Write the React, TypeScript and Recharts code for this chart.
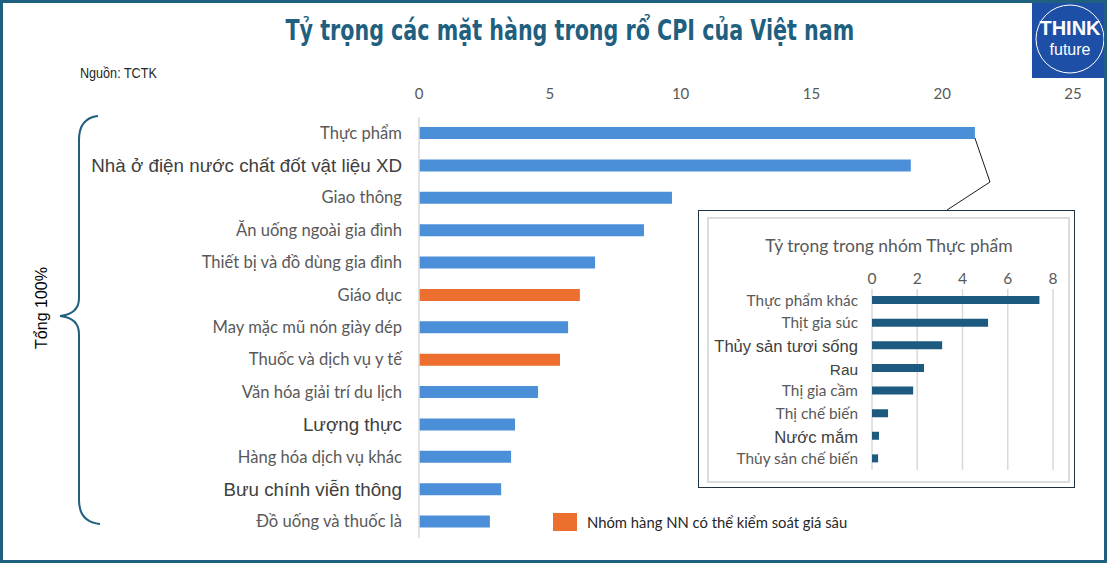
import { BarChart, Bar, Cell, XAxis, YAxis, CartesianGrid } from "recharts";

const categories = [
  "Thực phẩm",
  "Nhà ở điện nước chất đốt vật liệu XD",
  "Giao thông",
  "Ăn uống ngoài gia đình",
  "Thiết bị và đồ dùng gia đình",
  "Giáo dục",
  "May mặc mũ nón giày dép",
  "Thuốc và dịch vụ y tế",
  "Văn hóa giải trí du lịch",
  "Lượng thực",
  "Hàng hóa dịch vụ khác",
  "Bưu chính viễn thông",
  "Đồ uống và thuốc là",
];
const weights = [21.25, 18.8, 9.67, 8.6, 6.73, 6.15, 5.7, 5.39, 4.55, 3.67, 3.52, 3.14, 2.71];
const controlled = ["Giáo dục", "Thuốc và dịch vụ y tế"];
const mainTicks = [0, 5, 10, 15, 20, 25];

const foodItems = [
  "Thực phẩm khác",
  "Thịt gia súc",
  "Thủy sản tươi sống",
  "Rau",
  "Thị gia cầm",
  "Thị chế biến",
  "Nước mắm",
  "Thủy sản chế biến",
];
const foodWeights = [7.4, 5.13, 3.1, 2.3, 1.82, 0.71, 0.31, 0.27];
const foodTicks = [0, 2, 4, 6, 8];

// labels that were pasted in with a different font in the original
const bigLabels = new Set([
  "Nhà ở điện nước chất đốt vật liệu XD",
  "Lượng thực",
  "Bưu chính viễn thông",
  "Thủy sản tươi sống",
  "Rau",
  "Nước mắm",
]);

const TEAL = "#1f5f7f";
const BLUE = "#4a8fd8";
const ORANGE = "#ec6f2f";
const NAVY = "#1c5a80";
const GRAY = "#595959";
const LABEL_FONT = "Lato, 'Open Sans', sans-serif";
const ARIAL = "'Liberation Sans', Arial, sans-serif";

const mainData = categories.map((name, i) => ({ name, v: weights[i] }));
const foodData = foodItems.map((name, i) => ({ name, v: foodWeights[i] }));

// main plot geometry
const W = 1107;
const H = 563;
const PLOT_L = 419;
const PLOT_R = 1073;
const MAX = 25;

const mkYTick = (xRight: number, size: number, bigSize: number) => (props: any) => {
  const label = props.payload.value;
  const big = bigLabels.has(label);
  const fs = label === "Rau" ? size : big ? bigSize : size;
  return (
    <text
      x={xRight}
      y={props.y}
      dy={big ? 6.5 : 5.5}
      textAnchor="end"
      fontSize={fs}
      fontFamily={big ? ARIAL : LABEL_FONT}
      fill={big ? "#404040" : GRAY}
    >
      {label}
    </text>
  );
};

const mkXTick = (y: number, size: number) => (props: any) => (
  <text x={props.x} y={y} textAnchor="middle" fontSize={size} fontFamily={LABEL_FONT} fill={GRAY}>
    {props.payload.value}
  </text>
);

export default function App() {
  const endX = PLOT_L + (weights[0] / MAX) * (PLOT_R - PLOT_L);
  return (
    <div
      style={{
        position: "absolute",
        left: 0,
        top: 0,
        width: W,
        height: H,
        boxSizing: "border-box",
        border: `3px solid ${TEAL}`,
        background: "#fff",
        overflow: "hidden",
        fontFamily: LABEL_FONT,
      }}
    >
      <div style={{ position: "absolute", left: -3, top: -3 }}>
        <BarChart
          width={W}
          height={H}
          data={mainData}
          layout="vertical"
          margin={{ top: 87, right: W - PLOT_R, bottom: 25, left: 0 }}
          barCategoryGap={0}
        >
          <XAxis
            type="number"
            orientation="top"
            domain={[0, MAX]}
            ticks={mainTicks}
            axisLine={false}
            tickLine={false}
            tick={mkXTick(99, 15)}
            height={30}
          />
          <YAxis
            type="category"
            dataKey="name"
            width={PLOT_L}
            axisLine={{ stroke: "#d9d9d9", strokeWidth: 1.5 }}
            tickLine={false}
            tick={mkYTick(402, 16.6, 18.8)}
            interval={0}
          />
          <Bar dataKey="v" barSize={12} isAnimationActive={false}>
            {mainData.map((d) => (
              <Cell key={d.name} fill={controlled.includes(d.name) ? ORANGE : BLUE} />
            ))}
          </Bar>
        </BarChart>
      </div>

      {/* title, source, logo */}
      <div
        style={{
          position: "absolute",
          left: 0,
          width: 1134,
          top: 11,
          textAlign: "center",
          fontFamily: "'Liberation Sans Narrow', 'DejaVu Sans Condensed', sans-serif",
          fontWeight: 700,
          fontSize: 28,
          color: TEAL,
        }}
      >
        <span style={{ display: "inline-block", transform: "scaleX(0.82)", transformOrigin: "center" }}>
          Tỷ trọng các mặt hàng trong rổ CPI của Việt nam
        </span>
      </div>
      <div style={{ position: "absolute", left: 77, top: 62, fontSize: 14, color: "#262626", fontFamily: ARIAL }}>
        <span style={{ display: "inline-block", transform: "scaleX(0.9)", transformOrigin: "left" }}>Nguồn: TCTK</span>
      </div>
      <div
        style={{
          position: "absolute",
          left: 1029,
          top: -3,
          width: 78,
          height: 78,
          background: "#1e4fa6",
        }}
      >
        <svg width={78} height={78}>
          <circle cx={38} cy={39} r={34} fill="none" stroke="#fff" strokeWidth={1} />
          <text x={38} y={35} textAnchor="middle" fill="#fff" fontFamily={ARIAL} fontWeight={700} fontSize={20}>
            THINK
          </text>
          <text x={38} y={55} textAnchor="middle" fill="#fff" fontFamily={ARIAL} fontSize={16}>
            future
          </text>
        </svg>
      </div>

      {/* brace + connector */}
      <svg width={W} height={H} style={{ position: "absolute", left: -3, top: -3, pointerEvents: "none" }}>
        <path
          d="M 98 116 Q 79 118 79 140 L 79 298 Q 79 314 60 316 Q 79 318 79 334 L 79 500 Q 79 522 100 524"
          fill="none"
          stroke={TEAL}
          strokeWidth={2}
        />
        <text
          transform="translate(47 308) rotate(-90)"
          textAnchor="middle"
          fontSize={16}
          fontFamily={ARIAL}
          fill="#000"
        >
          Tổng 100%
        </text>
        <polyline points={`${endX},138 990,182 947,210`} fill="none" stroke="#1a1a1a" strokeWidth={1} />
      </svg>

      {/* legend */}
      <div style={{ position: "absolute", left: 550, top: 510, display: "flex", alignItems: "center" }}>
        <div style={{ width: 24, height: 18, background: ORANGE, marginRight: 10 }} />
        <span style={{ fontSize: 14.8, color: "#262626", fontFamily: LABEL_FONT }}>Nhóm hàng NN có thể kiểm soát giá sâu</span>
      </div>

      {/* inset */}
      <div
        style={{
          position: "absolute",
          left: 695,
          top: 207,
          width: 377,
          height: 278,
          boxSizing: "border-box",
          border: "1.5px solid #1d3344",
          background: "#fff",
        }}
      >
        <div
          style={{
            position: "absolute",
            left: 8,
            top: 6,
            right: 4,
            bottom: 4,
            border: "2px solid #dcdcdc",
          }}
        />
        <div
          style={{
            position: "absolute",
            left: 0,
            top: 24,
            width: 380,
            textAlign: "center",
            fontSize: 17.5,
            color: GRAY,
            fontFamily: LABEL_FONT,
          }}
        >
          Tỷ trọng trong nhóm Thực phẩm
        </div>
        <div style={{ position: "absolute", left: -1.5, top: -1.5 }}>
          <BarChart
            width={377}
            height={278}
            data={foodData}
            layout="vertical"
            margin={{ top: 49, right: 22, bottom: 18, left: 0 }}
            barCategoryGap={0}
          >
            <CartesianGrid horizontal={false} stroke="#d9d9d9" strokeWidth={1.5} />
            <XAxis
              type="number"
              orientation="top"
              domain={[0, 8]}
              ticks={foodTicks}
              axisLine={false}
              tickLine={false}
              tick={mkXTick(74, 15.5)}
              height={30}
            />
            <YAxis
              type="category"
              dataKey="name"
              width={174}
              axisLine={false}
              tickLine={false}
              tick={mkYTick(160, 15.4, 16.6)}
              interval={0}
            />
            <Bar dataKey="v" barSize={8} fill={NAVY} isAnimationActive={false} />
          </BarChart>
        </div>
      </div>
    </div>
  );
}
